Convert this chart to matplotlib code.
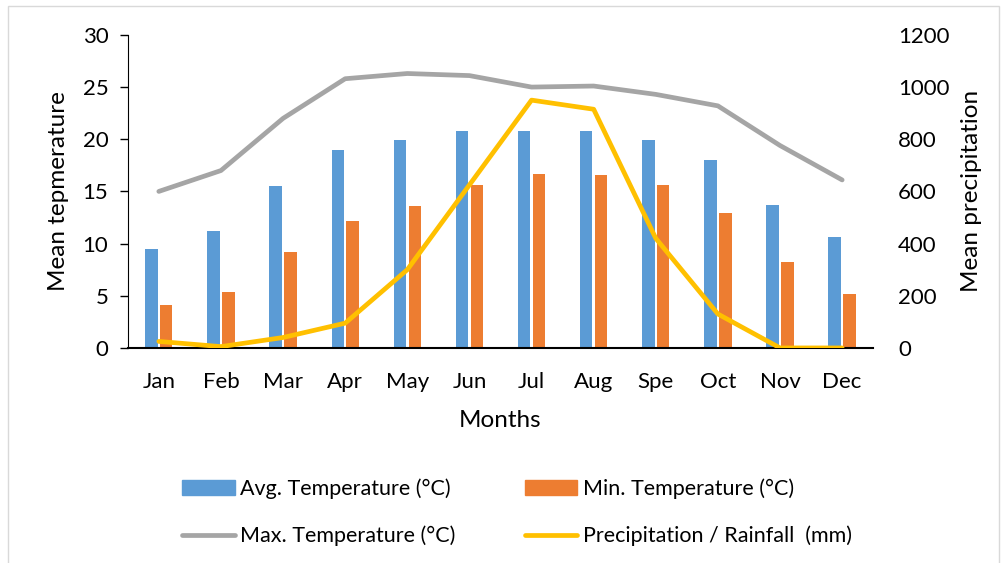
import matplotlib.pyplot as plt
import numpy as np
from matplotlib.patches import Rectangle
from matplotlib.lines import Line2D

plt.rcParams['font.family'] = ['Lato', 'DejaVu Sans']

months = ["Jan", "Feb", "Mar", "Apr", "May", "Jun", "Jul", "Aug", "Spe", "Oct", "Nov", "Dec"]
avg_temp = [9.5, 11.2, 15.5, 19.0, 19.9, 20.8, 20.8, 20.8, 19.9, 18.0, 13.7, 10.6]
min_temp = [4.1, 5.4, 9.2, 12.2, 13.6, 15.6, 16.7, 16.6, 15.6, 12.9, 8.2, 5.2]
max_temp = [15.0, 17.0, 22.0, 25.8, 26.3, 26.1, 25.0, 25.1, 24.3, 23.2, 19.4, 16.1]
rainfall = [25, 5, 40, 95, 300, 625, 950, 915, 420, 130, 0, 0]

BLUE = "#5B9BD5"
ORANGE = "#ED7D31"
GRAY = "#A5A5A5"
YELLOW = "#FFC000"

fig = plt.figure(figsize=(10.06, 5.63), dpi=100)
ax = fig.add_axes([0.127, 0.382, 0.741, 0.556])
ax2 = ax.twinx()

x = np.arange(len(months))
ax.bar(x - 0.12, avg_temp, width=0.2, color=BLUE, zorder=2)
ax.bar(x + 0.12, min_temp, width=0.2, color=ORANGE, zorder=2)
ax.plot(x, max_temp, color=GRAY, lw=3.4, solid_capstyle='round', zorder=3)
ax2.plot(x, rainfall, color=YELLOW, lw=3.4, solid_capstyle='round', zorder=3)

ax.set_xlim(-0.5, 11.5)
ax.set_ylim(0, 30)
ax.set_yticks(range(0, 31, 5))
ax2.set_ylim(0, 1200)
ax2.set_yticks(range(0, 1201, 200))

FS = 16
ax.set_xticks(x)
ax.set_xticklabels(months)
ax.tick_params(axis='x', length=0, labelsize=FS, pad=17)
ax.tick_params(axis='y', length=6, width=1, labelsize=FS, pad=8)
ax2.tick_params(axis='y', length=0, labelsize=FS, pad=18)

for a in (ax, ax2):
    a.spines['top'].set_visible(False)
    a.spines['right'].set_visible(False)
ax2.spines['left'].set_visible(False)
ax2.spines['bottom'].set_visible(False)
ax.spines['left'].set_color('black')
ax.spines['bottom'].set_linewidth(1.5)

ax.set_xlabel("Months", fontsize=17.5, labelpad=13)
ax.set_ylabel("Mean tepmerature", fontsize=17.5, labelpad=10)
ax2.set_ylabel("Mean precipitation", fontsize=17.5, labelpad=8)

handles = [
    Rectangle((0, 0), 1, 1, color=BLUE),
    Rectangle((0, 0), 1, 1, color=ORANGE),
    Line2D([], [], color=GRAY, lw=3.4, solid_capstyle='round'),
    Line2D([], [], color=YELLOW, lw=3.4, solid_capstyle='round'),
]
labels = ["Avg. Temperature (\u00b0C)", "Min. Temperature (\u00b0C)",
          "Max. Temperature (\u00b0C)", "Precipitation / Rainfall  (mm)"]
order = [0, 2, 1, 3]
fig.legend([handles[i] for i in order], [labels[i] for i in order],
           loc='center', bbox_to_anchor=(0.514, 0.09), ncol=2, frameon=False,
           fontsize=15.5, handlelength=2.45, handletextpad=0.25,
           columnspacing=3.2, labelspacing=1.25)

fig.patches.append(Rectangle((0.008, -0.01), 0.985, 1.0, transform=fig.transFigure,
                             fill=False, edgecolor='#D9D9D9', lw=1))

fig.savefig("out.png", dpi=100)
